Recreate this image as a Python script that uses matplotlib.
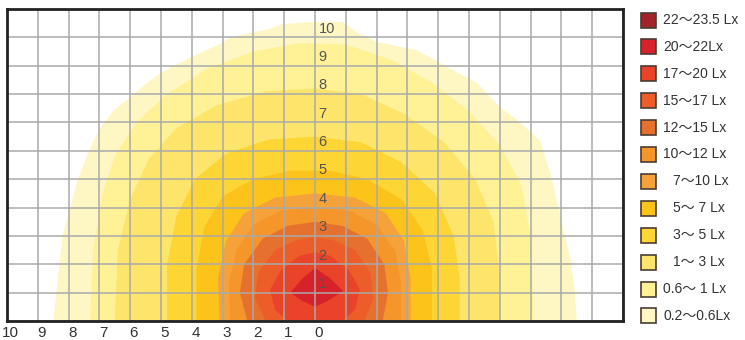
import matplotlib.pyplot as plt
from matplotlib.patches import Rectangle

plt.rcParams['font.family'] = ['Liberation Sans', 'Noto Sans CJK JP', 'DejaVu Sans']

# legend entries, highest level first
levels = ["22～23.5 Lx", "20～22Lx", "17～20 Lx", "15～17 Lx", "12～15 Lx", "10～12 Lx",
          "7～10 Lx", "5～ 7 Lx", "3～ 5 Lx", "1～ 3 Lx", "0.6～ 1 Lx", "0.2～0.6Lx"]
colors = ["#a3232b", "#d7212b", "#e9432a", "#ec5d2a", "#e6712f", "#f5962b",
          "#f6a23a", "#fcc41a", "#fdd535", "#fde56b", "#fef196", "#fef7c3"]

# isolux boundaries (x, y), outermost first
lux_02_x = [-8.5, -8.35, -8.2, -7.7, -7.3, -6.98, -6.56, -6.1, -5.45, -4.93, -3.83, -3.02, -2.75,
            -1.46, -1.05, 0, 0.91, 1.4, 2.01, 3.31, 4.06, 5.26, 6.0, 6.56, 7.3, 7.7, 8.05, 8.28, 8.44, 8.5]
lux_02_y = [0, 1.45, 3.0, 5.0, 6.1, 6.8, 7.4, 7.8, 8.4, 8.8, 9.4, 9.8, 10.0,
            10.3, 10.47, 10.55, 10.54, 10.15, 9.84, 9.55, 9.1, 8.39, 7.55, 7.09, 6.38, 4.97, 3.3, 2.26, 1.0, 0]
lux_06_x = [-7.3, -7.2, -6.9, -6.5, -5.8, -4.8, -3.5, -2.0, -0.5, 1.0, 2.5, 3.8, 5.0, 6.0, 6.7, 7.0, 7.1]
lux_06_y = [0, 2.5, 4.5, 5.8, 7.0, 8.0, 8.9, 9.5, 9.8, 9.75, 9.2, 8.4, 7.4, 6.2, 4.8, 3.0, 0]
lux_1_x = [-6.5, -6.4, -6.0, -5.4, -4.5, -3.2, -1.6, 0, 1.5, 2.9, 4.2, 5.2, 5.8, 6.0, 6.0]
lux_1_y = [0, 2.5, 4.3, 5.7, 6.8, 7.6, 8.1, 8.2, 8.0, 7.3, 6.3, 5.0, 3.5, 1.5, 0]
lux_3_x = [-4.8, -4.8, -4.5, -3.9, -2.9, -1.5, 0, 1.5, 2.8, 3.9, 4.5, 4.7, 4.7]
lux_3_y = [0, 2.0, 3.7, 5.0, 5.9, 6.4, 6.5, 6.3, 5.6, 4.5, 3.0, 1.5, 0]
lux_5_x = [-3.85, -3.85, -3.6, -3.0, -2.0, -0.8, 0.5, 1.7, 2.8, 3.5, 3.8, 3.8]
lux_5_y = [0, 1.8, 3.3, 4.4, 5.0, 5.3, 5.3, 5.0, 4.3, 3.2, 1.8, 0]
lux_7_x = [-3.1, -3.15, -2.9, -2.3, -1.3, 0, 1.3, 2.3, 2.9, 3.1, 3.1]
lux_7_y = [0, 1.5, 2.8, 3.8, 4.35, 4.5, 4.35, 3.8, 2.8, 1.5, 0]
lux_10_x = [-2.75, -2.8, -2.55, -2.0, -1.1, 0, 1.1, 2.0, 2.6, 2.8, 2.8]
lux_10_y = [0, 1.3, 2.5, 3.4, 3.9, 4.0, 3.9, 3.4, 2.5, 1.3, 0]
lux_12_x = [-2.2, -2.44, -2.3, -1.7, -0.9, 0, 0.9, 1.7, 2.25, 2.37, 2.2]
lux_12_y = [0, 1.0, 2.0, 2.9, 3.35, 3.5, 3.35, 2.9, 2.0, 1.0, 0]
lux_15_x = [-1.6, -1.95, -1.85, -1.3, -0.6, 0, 0.6, 1.3, 1.8, 1.9, 1.6]
lux_15_y = [0, 0.8, 1.7, 2.5, 2.85, 2.96, 2.85, 2.5, 1.7, 0.8, 0]
lux_17_x = [-0.9, -1.3, -1.46, -1.1, -0.5, 0, 0.5, 1.1, 1.46, 1.3, 0.9]
lux_17_y = [0, 0.4, 1.1, 1.8, 2.3, 2.43, 2.3, 1.8, 1.1, 0.4, 0]
lux_20_x = [-0.81, -0.4, 0, 0.5, 0.91, 0.4, 0, -0.4]
lux_20_y = [1.0, 1.5, 1.87, 1.5, 1.05, 0.7, 0.5, 0.7]

bands = [(lux_02_x, lux_02_y), (lux_06_x, lux_06_y), (lux_1_x, lux_1_y), (lux_3_x, lux_3_y),
         (lux_5_x, lux_5_y), (lux_7_x, lux_7_y), (lux_10_x, lux_10_y), (lux_12_x, lux_12_y),
         (lux_15_x, lux_15_y), (lux_17_x, lux_17_y), (lux_20_x, lux_20_y)]

x_labels = [10, 9, 8, 7, 6, 5, 4, 3, 2, 1, 0]
y_labels = [1, 2, 3, 4, 5, 6, 7, 8, 9, 10]

W, H = 745, 340
fig = plt.figure(figsize=(W / 100, H / 100), dpi=100)
ax = fig.add_axes([7 / W, 19 / H, 616 / W, 312 / H])
ax.set_xlim(-10, 10)
ax.set_ylim(0, 11)

# outermost band first, inner ones painted over it
band_colors = colors[::-1]
for i, (bx, by) in enumerate(bands):
    ax.fill(bx, by, color=band_colors[i], lw=0, zorder=1)

ax.set_xticks(range(-10, 11))
ax.set_yticks(range(0, 12))
ax.grid(color='#a9a9a9', lw=1.1, zorder=2)
ax.set_axisbelow(False)
ax.tick_params(length=0, labelbottom=False, labelleft=False)
for s in ax.spines.values():
    s.set_linewidth(2)
    s.set_color('#222222')
    s.set_zorder(3)

for v in y_labels:
    ax.text(0.12, v + 0.06, str(v), ha='left', va='bottom', fontsize=10.5, color='#555555', zorder=4)
for v in x_labels:
    ax.text(-v + 0.12, -0.42, str(v), ha='center', va='center', fontsize=11, color='#333333',
            clip_on=False)

# legend, drawn in pixel positions on the figure
for i, (lab, c) in enumerate(zip(levels, colors)):
    yc = 20 + i * 26.9
    fig.add_artist(Rectangle((641 / W, 1 - (yc + 7.5) / H), 15 / W, 15 / H, transform=fig.transFigure,
                             facecolor=c, edgecolor='#4a3c32', lw=1.2))
    tx = 673 if lab[1] == "～" else 663
    fig.text(tx / W, 1 - yc / H, lab, ha='left', va='center', fontsize=10, color='#333333')

fig.savefig("out.png", dpi=100)
